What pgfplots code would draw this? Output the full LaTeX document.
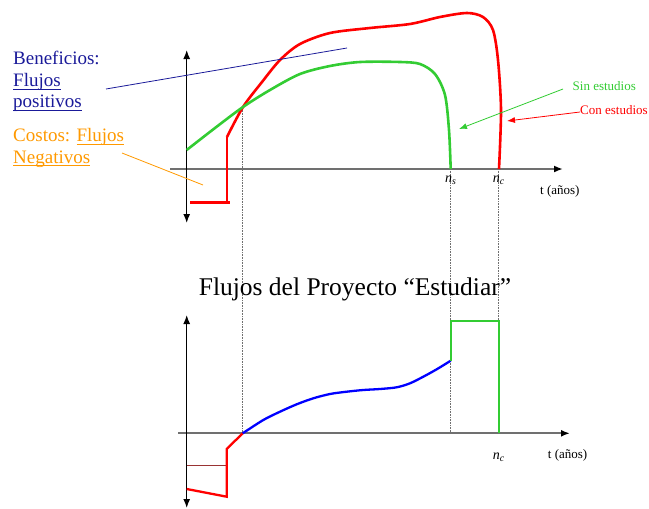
\documentclass[border=0pt]{standalone}
\usepackage{fontspec}
\setmainfont{Liberation Serif}
\usepackage{xcolor}
\usepackage{pgfplots}
\pgfplotsset{compat=1.18}
\usetikzlibrary{arrows.meta}
\definecolor{rojo}{HTML}{FF0000}
\definecolor{verde}{HTML}{33CC33}
\definecolor{azul}{HTML}{0000FF}
\definecolor{beneblue}{HTML}{1A1A99}
\definecolor{naranja}{HTML}{FF9900}
\definecolor{ejegris}{HTML}{707070}
\definecolor{rojooscuro}{HTML}{993333}
% underline sitting just under the baseline
\newcommand\ul[1]{\setbox0\hbox{#1}\rlap{\rule[-3pt]{\wd0}{1pt}}\box0}
\begin{document}
\begin{tikzpicture}
\begin{axis}[
  x=1pt, y=1pt, y dir=reverse,
  xmin=0, xmax=649, ymin=0, ymax=509,
  hide axis, clip=false, scale only axis,
]
% frame of the picture
\addplot[draw=none] coordinates {(0,0) (649,509)};

% ---------- top chart ----------
% dotted guides
\addplot[ejegris, densely dotted, line width=0.6pt] coordinates {(242.7,108) (242.7,433.3)};
\addplot[ejegris, densely dotted, line width=0.6pt] coordinates {(450.7,169) (450.7,433.3)};
\addplot[ejegris, densely dotted, line width=0.6pt] coordinates {(498.7,169) (498.7,321)};
% axes
\addplot[ejegris, line width=1.8pt, -{Latex[length=9pt,width=7pt,black]}] coordinates {(170,169) (563,169)};
\addplot[black, line width=1.3pt, {Latex[length=9pt,width=7pt]}-{Latex[length=9pt,width=7pt]}] coordinates {(186.7,50) (186.7,223)};
% con estudios (red)
\addplot[rojo, line width=2.6pt] coordinates {(190,202.5) (230,202.5)};
\addplot[rojo, line width=2.6pt] coordinates {(227,202.5) (227,137)};
\addplot[rojo, line width=2.6pt, smooth, tension=0.5] coordinates {
  (227,137) (243,107) (262,82) (280,60) (300,44) (330,33) (370,28) (410,24)
  (440,17) (467,13) (483,17) (493,30) (498,60) (501,110) (499,169)};
% sin estudios (green)
\addplot[verde, line width=2.6pt, smooth, tension=0.5] coordinates {
  (186.7,150) (215,128) (243,107) (270,90) (300,74) (330,66) (360,62) (400,62)
  (420,64) (435,74) (445,95) (449,130) (450.7,169)};
% pointer lines
\addplot[beneblue, line width=0.8pt] coordinates {(106,89) (347,48)};
\addplot[naranja, line width=0.8pt] coordinates {(122,153) (203,185)};
\addplot[verde, line width=0.8pt, -{Latex[length=8pt,width=6pt]}] coordinates {(563,89) (459,129)};
\addplot[rojo, line width=0.8pt, -{Latex[length=8pt,width=6pt]}] coordinates {(580,112) (507,121)};

% texts
\node[anchor=base west, inner sep=0pt, beneblue, font=\fontsize{19}{22}\selectfont] at (axis cs:13,64) {Beneficios:};
\node[anchor=base west, inner sep=0pt, beneblue, font=\fontsize{19}{22}\selectfont] at (axis cs:13,86.5) {\ul{Flujos}};
\node[anchor=base west, inner sep=0pt, beneblue, font=\fontsize{19}{22}\selectfont] at (axis cs:13,107.5) {\ul{positivos}};
\node[anchor=base west, inner sep=0pt, naranja, font=\fontsize{19}{22}\selectfont] at (axis cs:13,141.7) {Costos: \ul{Flujos}};
\node[anchor=base west, inner sep=0pt, naranja, font=\fontsize{19}{22}\selectfont] at (axis cs:13,163.3) {\ul{Negativos}};
\node[anchor=base west, inner sep=0pt, verde, font=\fontsize{13}{15}\selectfont] at (axis cs:572.5,90) {Sin estudios};
\node[anchor=base west, inner sep=0pt, rojo, font=\fontsize{13}{15}\selectfont] at (axis cs:580,114.3) {Con estudios};
\node[anchor=base, inner sep=0pt, font=\fontsize{14}{16}\selectfont] at (axis cs:450.7,182.7) {\textit{n}\textsubscript{\textit{s}}};
\node[anchor=base, inner sep=0pt, font=\fontsize{14}{16}\selectfont] at (axis cs:498.7,182.7) {\textit{n}\textsubscript{\textit{c}}};
\node[anchor=base west, inner sep=0pt, font=\fontsize{13}{15}\selectfont] at (axis cs:540,194.3) {t (años)};

% title
\node[anchor=base, inner sep=0pt, font=\fontsize{25.5}{28}\selectfont] at (axis cs:355,295) {Flujos del Proyecto “Estudiar”};

% ---------- bottom chart ----------
\addplot[ejegris, line width=1.8pt, -{Latex[length=9pt,width=7pt,black]}] coordinates {(178,433.3) (570,433.3)};
\addplot[black, line width=1.3pt, {Latex[length=9pt,width=7pt]}-{Latex[length=9pt,width=7pt]}] coordinates {(186.7,315) (186.7,508)};
\addplot[rojooscuro, line width=0.9pt] coordinates {(186.7,465) (226.7,465)};
\addplot[rojo, line width=2.3pt] coordinates {(186.7,489) (226.7,496.7) (226.7,449) (242.7,433.3)};
\addplot[azul, line width=2.3pt, smooth, tension=0.5] coordinates {
  (242.7,433.3) (263.3,420) (280,411.7) (296.7,404.3) (313.3,398.3) (330,394)
  (346.7,391.7) (363.3,390) (380,389) (396.7,387.3) (410,383.3) (423.3,376.7)
  (436.7,369.3) (450.7,360.7)};
\addplot[verde, line width=2.3pt] coordinates {(450.7,360.7) (450.7,321) (498.7,321) (498.7,433.3)};
\node[anchor=base, inner sep=0pt, font=\fontsize{14}{16}\selectfont] at (axis cs:498.7,459.3) {\textit{n}\textsubscript{\textit{c}}};
\node[anchor=base west, inner sep=0pt, font=\fontsize{13}{15}\selectfont] at (axis cs:547.7,458.3) {t (años)};
\end{axis}
\end{tikzpicture}
\end{document}
